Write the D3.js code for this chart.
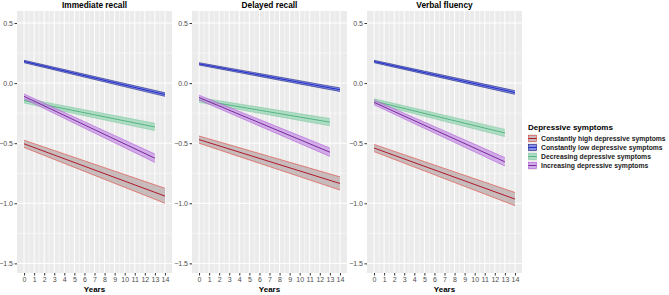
<!DOCTYPE html>
<html>
<head>
<meta charset="utf-8">
<script src="https://cdn.jsdelivr.net/npm/d3@7"></script>
<style>
  body { margin: 0; background: #fff; font-family: "Liberation Sans", Arial, sans-serif; }
</style>
</head>
<body>
<script>
const width = 669;
const height = 295;

// groups, in legend order
const groups = ['Constantly high depressive symptoms', 'Constantly low depressive symptoms',
  'Decreasing depressive symptoms', 'Increasing depressive symptoms'];
const panels = ['Immediate recall', 'Delayed recall', 'Verbal fluency'];
const yearTicks = d3.range(0, 15);
const yTicks = [0.5, 0.0, -0.5, -1.0, -1.5];

// fitted trajectories: years, fitted value, lower and upper CI (read at start and end)
const years = [[0, 14], [0, 14], [0, 13], [0, 13]];
const fitImmediate = [[-0.505, -0.94], [0.18, -0.095], [-0.145, -0.365], [-0.11, -0.625]];
const lowImmediate = [[-0.535, -1.0], [0.17, -0.11], [-0.165, -0.395], [-0.13, -0.66]];
const highImmediate = [[-0.475, -0.875], [0.19, -0.08], [-0.125, -0.335], [-0.09, -0.59]];
const fitDelayed = [[-0.47, -0.835], [0.16, -0.055], [-0.14, -0.325], [-0.12, -0.575]];
const lowDelayed = [[-0.50, -0.89], [0.15, -0.07], [-0.16, -0.355], [-0.14, -0.61]];
const highDelayed = [[-0.44, -0.78], [0.17, -0.04], [-0.12, -0.295], [-0.10, -0.54]];
const fitFluency = [[-0.54, -0.965], [0.18, -0.078], [-0.15, -0.415], [-0.16, -0.655]];
const lowFluency = [[-0.57, -1.02], [0.17, -0.093], [-0.17, -0.445], [-0.18, -0.69]];
const highFluency = [[-0.51, -0.91], [0.19, -0.063], [-0.13, -0.385], [-0.14, -0.62]];

const fits = [fitImmediate, fitDelayed, fitFluency];
const lows = [lowImmediate, lowDelayed, lowFluency];
const highs = [highImmediate, highDelayed, highFluency];

const lineColors = ['#b2182b', '#1f2bc9', '#55b482', '#7a2a9a'];
const edgeColors = ['#e0443c', '#1a1f7a', '#7fc9a0', '#b35ad6'];
const fillColors = ['#b9aaaa', '#6470e0', '#9ad6b6', '#c596e6'];

const panelX = [17, 192, 367];
const panelW = 155;
const plotTop = 11, plotBottom = 273;

const svg = d3.select('body').append('svg')
  .attr('width', width)
  .attr('height', height)
  .style('font-family', '"Liberation Sans", Arial, sans-serif');

const y = d3.scaleLinear().domain([-1.58, 0.6]).range([plotBottom, plotTop]);

panels.forEach((title, p) => {
  const x = d3.scaleLinear().domain([-0.7, 14.7]).range([panelX[p], panelX[p] + panelW]);
  const g = svg.append('g').attr('class', 'panel');

  g.append('rect')
    .attr('x', panelX[p]).attr('y', plotTop)
    .attr('width', panelW).attr('height', plotBottom - plotTop)
    .attr('fill', '#ebebeb');

  // minor grid
  const minorY = d3.range(0, yTicks.length - 1).map(i => (yTicks[i] + yTicks[i + 1]) / 2);
  g.selectAll('line.minory').data(minorY).enter().append('line')
    .attr('x1', panelX[p]).attr('x2', panelX[p] + panelW)
    .attr('y1', d => y(d)).attr('y2', d => y(d))
    .attr('stroke', '#fff').attr('stroke-width', 0.5);
  const minorX = d3.range(0, yearTicks.length - 1).map(i => yearTicks[i] + 0.5);
  g.selectAll('line.minorx').data(minorX).enter().append('line')
    .attr('y1', plotTop).attr('y2', plotBottom)
    .attr('x1', d => x(d)).attr('x2', d => x(d))
    .attr('stroke', '#fff').attr('stroke-width', 0.5);

  // major grid
  g.selectAll('line.majory').data(yTicks).enter().append('line')
    .attr('x1', panelX[p]).attr('x2', panelX[p] + panelW)
    .attr('y1', d => y(d)).attr('y2', d => y(d))
    .attr('stroke', '#fff').attr('stroke-width', 1);
  g.selectAll('line.majorx').data(yearTicks).enter().append('line')
    .attr('y1', plotTop).attr('y2', plotBottom)
    .attr('x1', d => x(d)).attr('x2', d => x(d))
    .attr('stroke', '#fff').attr('stroke-width', 1);

  // axes
  const yAxis = d3.axisLeft(y).tickValues(yTicks).tickSize(2.5).tickPadding(1.5)
    .tickFormat(d3.format('.1f'));
  const ya = g.append('g').attr('transform', `translate(${panelX[p]},0)`).call(yAxis);
  ya.select('.domain').remove();
  ya.selectAll('line').attr('stroke', '#333');
  ya.selectAll('text').attr('fill', '#4d4d4d').style('font-size', '7px');

  const xAxis = d3.axisBottom(x).tickValues(yearTicks).tickSize(2.5).tickPadding(1.5);
  const xa = g.append('g').attr('transform', `translate(0,${plotBottom})`).call(xAxis);
  xa.select('.domain').remove();
  xa.selectAll('line').attr('stroke', '#333');
  xa.selectAll('text').attr('fill', '#4d4d4d').style('font-size', '7px');

  g.append('text')
    .attr('x', panelX[p] + panelW / 2).attr('y', 292)
    .attr('text-anchor', 'middle')
    .style('font-size', '8px').style('font-weight', 'bold')
    .text('Years');

  g.append('text')
    .attr('x', panelX[p] + panelW / 2).attr('y', 8)
    .attr('text-anchor', 'middle')
    .style('font-size', '8.3px').style('font-weight', 'bold')
    .text(title);

  const area = d3.area().x(d => x(d.t)).y0(d => y(d.lo)).y1(d => y(d.hi));
  const line = d3.line().x(d => x(d.t)).y(d => y(d.v));

  groups.forEach((grp, k) => {
    const pts = years[k].map((t, i) => ({
      t: t, v: fits[p][k][i], lo: lows[p][k][i], hi: highs[p][k][i]
    }));
    g.append('path').attr('d', area(pts))
      .attr('fill', fillColors[k]).attr('fill-opacity', 0.75);
    g.append('path').attr('d', d3.line().x(d => x(d.t)).y(d => y(d.lo))(pts))
      .attr('fill', 'none').attr('stroke', edgeColors[k]).attr('stroke-width', 0.6);
    g.append('path').attr('d', d3.line().x(d => x(d.t)).y(d => y(d.hi))(pts))
      .attr('fill', 'none').attr('stroke', edgeColors[k]).attr('stroke-width', 0.6);
    g.append('path').attr('d', line(pts))
      .attr('fill', 'none').attr('stroke', lineColors[k]).attr('stroke-width', 1);
  });
});

// legend
const legend = svg.append('g').attr('class', 'legend').attr('transform', 'translate(528,0)');
legend.append('text')
  .attr('x', 0).attr('y', 130)
  .style('font-size', '8px').style('font-weight', 'bold')
  .text('Depressive symptoms');

const keys = legend.selectAll('g.key').data(groups).enter().append('g')
  .attr('class', 'key')
  .attr('transform', (d, i) => `translate(0,${134 + i * 9})`);
keys.append('rect')
  .attr('x', 0).attr('y', 0).attr('width', 9).attr('height', 9)
  .attr('fill', '#ebebeb');
keys.append('rect')
  .attr('x', 0.5).attr('y', 1.5).attr('width', 8).attr('height', 6)
  .attr('fill', (d, i) => fillColors[i]).attr('fill-opacity', 0.75)
  .attr('stroke', (d, i) => edgeColors[i]).attr('stroke-width', 0.6);
keys.append('line')
  .attr('x1', 0.5).attr('x2', 8.5).attr('y1', 4.5).attr('y2', 4.5)
  .attr('stroke', (d, i) => lineColors[i]).attr('stroke-width', 1);
keys.append('text')
  .attr('x', 13).attr('y', 7)
  .style('font-size', '6.8px').style('font-weight', 'bold')
  .attr('fill', '#1a1a1a')
  .text(d => d);
</script>
</body>
</html>
